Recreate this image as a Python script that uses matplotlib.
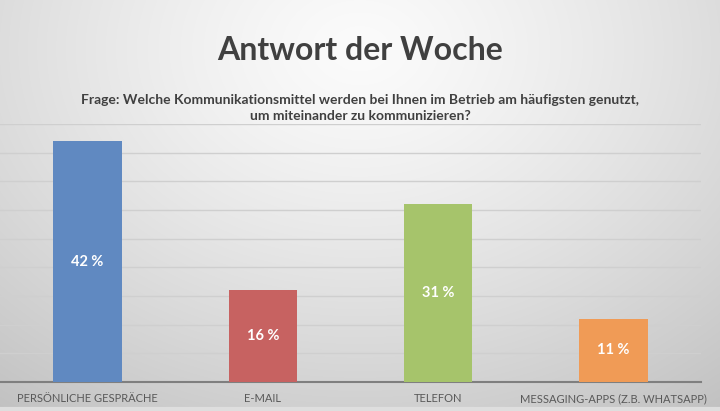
import numpy as np
import matplotlib
matplotlib.use("Agg")
import matplotlib.pyplot as plt

categories = ["PERSÖNLICHE GESPRÄCHE", "E-MAIL", "TELEFON", "MESSAGING-APPS (Z.B. WHATSAPP)"]
values = [42, 16, 31, 11]
value_labels = ["42 %", "16 %", "31 %", "11 %"]
colors = ["#6089c1", "#c76261", "#a6c46b", "#f09b56"]

title = "Antwort der Woche"
subtitle = ("Frage: Welche Kommunikationsmittel werden bei Ihnen im Betrieb am häufigsten genutzt,\n"
            "um miteinander zu kommunizieren?")

plt.rcParams["font.family"] = ["Lato", "DejaVu Sans"]

fig = plt.figure(figsize=(7.2, 4.11), dpi=100)

# radial grey background
bg = fig.add_axes([0, 0, 1, 1])
yy, xx = np.mgrid[0:1:411j, 0:1:720j]
r = np.sqrt(((xx - 0.5) / 0.75) ** 2 + ((yy - 0.12) / 1.0) ** 2)
shade = 0.985 - 0.2 * np.clip(r, 0, 1.2) ** 1.3
bg.imshow(np.dstack([shade] * 3), aspect="auto", extent=[0, 1, 1, 0], interpolation="bilinear")
bg.axhline(0.996, color="#dedede", lw=3)
bg.set_xlim(0, 1)
bg.set_ylim(1, 0)
bg.axis("off")

ax = fig.add_axes([0.0, 29 / 411, 701 / 720, 258 / 411])
ax.patch.set_alpha(0)
x = np.arange(len(categories))
bars = ax.bar(x, values, width=0.39, color=colors, zorder=3)
for b, lab in zip(bars, value_labels):
    ax.text(b.get_x() + b.get_width() / 2, b.get_height() / 2, lab, ha="center", va="center",
            color="white", fontsize=10.5, fontweight="bold", zorder=4)

ax.set_xlim(-0.5, len(categories) - 0.5)
ax.set_ylim(0, 45)
ax.set_yticks(np.arange(0, 46, 5))
ax.yaxis.grid(True, color="#cfcfcf", lw=1, zorder=0)
ax.tick_params(axis="y", left=False, labelleft=False)
ax.tick_params(axis="x", length=0, pad=8, labelcolor="#595959")
ax.set_xticks(x)
ax.set_xticklabels(categories, fontsize=8)
for s in ["top", "right", "left"]:
    ax.spines[s].set_visible(False)
ax.spines["bottom"].set_color("#7f7f7f")
ax.spines["bottom"].set_linewidth(1.5)

fig.text(0.5, 1 - 50 / 411, title, ha="center", va="center", fontsize=23, fontweight="bold", color="#404040")
fig.text(0.5, 1 - 108 / 411, subtitle, ha="center", va="center", fontsize=10, fontweight="bold",
         color="#404040", linespacing=1.3)

fig.savefig("out.png", dpi=100)
